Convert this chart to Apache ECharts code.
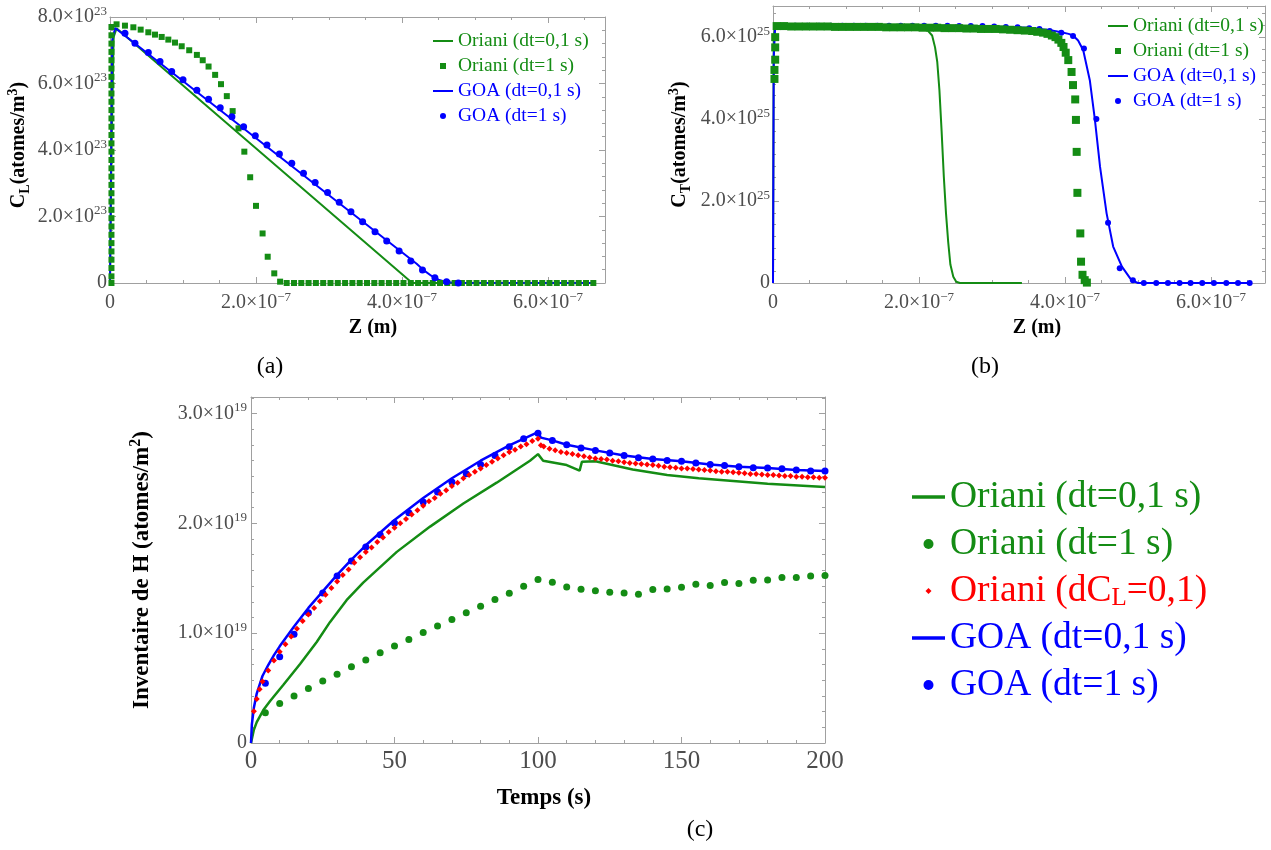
<!DOCTYPE html>
<html>
<head>
<meta charset="utf-8">
<title>Oriani / GOA</title>
<script src="https://cdn.jsdelivr.net/npm/echarts@6/dist/echarts.min.js"></script>
<style>
  html, body { margin: 0; background: #fff; }
  #chart { width: 1271px; height: 850px; }
</style>
</head>
<body>
<div id="chart"></div>
<script>
// ---- (a) C_L profile : z in 1e-7 m, C_L in 1e23 atomes/m3
const orianiLineA = [[0, 0], [0.02, 4.0], [0.05, 7.4], [0.09, 7.66], [4.14, 0], [6.6, 0]];
const orianiColA = [0, 0.2, 0.45, 0.7, 0.95, 1.2, 1.45, 1.7, 1.95, 2.2, 2.45, 2.7, 2.95, 3.2, 3.45, 3.7,
  3.95, 4.2, 4.45, 4.7, 4.95, 5.2, 5.45, 5.7, 5.95, 6.2, 6.45, 6.7, 6.95, 7.2, 7.45, 7.7];
const orianiSqA = [[0.09, 7.78], [0.205, 7.74], [0.32, 7.69], [0.42, 7.62], [0.525, 7.54], [0.616, 7.47],
  [0.708, 7.4], [0.799, 7.32], [0.89, 7.23], [0.982, 7.12], [1.085, 7.0], [1.19, 6.86], [1.27, 6.7],
  [1.35, 6.51], [1.44, 6.26], [1.52, 5.98], [1.6, 5.62], [1.68, 5.17], [1.76, 4.65], [1.84, 3.95],
  [1.92, 3.18], [2.0, 2.32], [2.09, 1.49], [2.16, 0.79], [2.25, 0.29], [2.33, 0.04]];
const orianiTailA = [2.42, 2.52, 2.62, 2.72, 2.82, 2.92, 3.02, 3.12, 3.22, 3.32, 3.42, 3.52, 3.62, 3.72,
  3.82, 3.92, 4.02, 4.12, 4.22, 4.32, 4.42, 4.52, 4.62, 4.72, 4.82, 4.92, 5.02, 5.12, 5.22, 5.32, 5.42,
  5.52, 5.62, 5.72, 5.82, 5.92, 6.02, 6.12, 6.22, 6.32, 6.42, 6.52, 6.62];
const goaLineA = [[0, 0], [0.03, 7.3], [0.07, 7.67], [4.2, 0.58], [4.3, 0.38], [4.4, 0.22], [4.5, 0.1],
  [4.6, 0.03], [4.75, 0], [6.6, 0]];
const goaDotsA = [[0.205, 7.51], [0.342, 7.21], [0.525, 6.93], [0.685, 6.66], [0.845, 6.36], [1.0, 6.11],
  [1.19, 5.8], [1.35, 5.53], [1.51, 5.27], [1.67, 5.0], [1.83, 4.7], [1.99, 4.43], [2.15, 4.15],
  [2.32, 3.88], [2.49, 3.6], [2.65, 3.3], [2.81, 3.02], [2.98, 2.72], [3.14, 2.43], [3.3, 2.14],
  [3.46, 1.84], [3.63, 1.54], [3.79, 1.26], [3.96, 0.96], [4.12, 0.66], [4.28, 0.39], [4.45, 0.16],
  [4.61, 0.04], [4.77, 0]];

// ---- (b) C_T profile : z in 1e-7 m, C_T in 1e25 atomes/m3
const orianiLineB = [[0, 0], [0.005, 3.0], [0.01, 6.0], [0.03, 6.26], [1.0, 6.24], [2.05, 6.22],
  [2.12, 6.16], [2.18, 6.04], [2.22, 5.75], [2.25, 5.4], [2.28, 4.7], [2.31, 3.7], [2.34, 2.6],
  [2.37, 1.7], [2.4, 1.0], [2.43, 0.45], [2.47, 0.15], [2.51, 0.03], [2.56, 0], [3.41, 0]];
const orianiSqB = [[0.02, 4.98], [0.02, 5.2], [0.03, 5.45], [0.03, 5.75], [0.03, 6.0],
  [0.05, 6.27], [0.15, 6.27], [0.25, 6.26], [0.35, 6.26], [0.45, 6.26], [0.55, 6.26], [0.65, 6.26],
  [0.75, 6.26], [0.85, 6.25], [0.95, 6.25], [1.05, 6.25], [1.15, 6.25], [1.25, 6.25], [1.35, 6.25],
  [1.45, 6.25], [1.55, 6.24], [1.65, 6.24], [1.75, 6.24], [1.85, 6.24], [1.95, 6.24], [2.05, 6.23],
  [2.15, 6.23], [2.25, 6.23], [2.35, 6.22], [2.45, 6.22], [2.55, 6.22], [2.65, 6.21], [2.75, 6.21],
  [2.85, 6.2], [2.95, 6.2], [3.05, 6.2], [3.15, 6.19], [3.25, 6.18], [3.35, 6.17], [3.45, 6.16],
  [3.55, 6.15], [3.62, 6.13], [3.7, 6.11], [3.76, 6.08], [3.82, 6.04], [3.87, 6.0], [3.91, 5.94],
  [3.95, 5.86], [3.98, 5.76], [4.01, 5.62], [4.045, 5.44], [4.09, 5.15], [4.11, 4.83], [4.14, 4.48],
  [4.15, 3.98], [4.16, 3.2], [4.17, 2.2], [4.21, 1.21], [4.22, 0.52], [4.24, 0.2], [4.27, 0.07],
  [4.3, 0.01]];
const goaLineB = [[0, 0], [0.01, 5.5], [0.03, 6.28], [3.0, 6.26], [3.5, 6.23], [3.8, 6.17], [3.95, 6.12],
  [4.05, 6.08], [4.11, 6.04], [4.18, 5.92], [4.25, 5.68], [4.34, 4.95], [4.41, 3.98], [4.48, 2.84],
  [4.57, 1.7], [4.66, 0.89], [4.78, 0.4], [4.91, 0.07], [5.0, 0], [6.55, 0]];
const goaDotsB = [[0.15, 6.28], [0.31, 6.28], [0.47, 6.28], [0.63, 6.28], [0.79, 6.28], [0.95, 6.28],
  [1.11, 6.28], [1.27, 6.28], [1.43, 6.28], [1.59, 6.28], [1.75, 6.28], [1.91, 6.28], [2.07, 6.28],
  [2.23, 6.28], [2.39, 6.28], [2.55, 6.27], [2.71, 6.27], [2.87, 6.27], [3.03, 6.26], [3.19, 6.25],
  [3.35, 6.24], [3.51, 6.22], [3.65, 6.2], [3.79, 6.15], [3.95, 6.11], [4.11, 6.03], [4.26, 5.72],
  [4.43, 4.0], [4.59, 1.47], [4.75, 0.36], [4.93, 0.07], [5.08, 0], [5.25, 0], [5.41, 0], [5.57, 0],
  [5.72, 0], [5.88, 0], [6.04, 0], [6.21, 0], [6.37, 0], [6.53, 0]];

// ---- (c) H inventory : time in s, inventory in 1e19 atomes/m2
const orianiLineC = [[0, 0], [1, 0.12], [2, 0.19], [4.3, 0.3], [6.6, 0.38], [11.3, 0.53], [17.1, 0.72],
  [22.9, 0.92], [27.5, 1.1], [33.3, 1.3], [39.1, 1.46], [50.8, 1.74], [62.4, 1.97], [74, 2.18],
  [85.6, 2.37], [97.2, 2.57], [100, 2.63], [101.8, 2.57], [110, 2.53], [114.5, 2.48], [115.3, 2.56],
  [120, 2.565], [133, 2.49], [145, 2.44], [156, 2.41], [168, 2.385], [180, 2.36], [200, 2.33]];
const dotTimes = [5, 10, 15, 20, 25, 30, 35, 40, 45, 50, 55, 60, 65, 70, 75, 80, 85, 90, 95, 100,
  105, 110, 115, 120, 125, 130, 135, 140, 145, 150, 155, 160, 165, 170, 175, 180, 185, 190, 195, 200];
const orianiDotsC = [0.276, 0.36, 0.427, 0.497, 0.564, 0.627, 0.694, 0.755, 0.821, 0.882, 0.942, 1.006,
  1.066, 1.124, 1.185, 1.245, 1.306, 1.363, 1.427, 1.488, 1.464, 1.421, 1.4, 1.385, 1.373, 1.366, 1.355,
  1.397, 1.403, 1.418, 1.445, 1.433, 1.461, 1.452, 1.482, 1.485, 1.506, 1.506, 1.521, 1.525];
const goaDotsC = [0.543, 0.785, 0.99, 1.185, 1.366, 1.52, 1.657, 1.785, 1.897, 2.003, 2.097, 2.194,
  2.285, 2.376, 2.452, 2.536, 2.618, 2.697, 2.77, 2.82, 2.755, 2.715, 2.685, 2.664, 2.64, 2.618, 2.597,
  2.585, 2.573, 2.564, 2.548, 2.536, 2.527, 2.515, 2.506, 2.503, 2.497, 2.485, 2.476, 2.476];
const goaLineC = [[0, 0], [0.3, 0.17], [1, 0.32], [2, 0.45], [4, 0.61], [6, 0.71], [8, 0.8], [10, 0.88],
  [15, 1.06], [20, 1.23], [25, 1.38], [30, 1.53], [35, 1.67], [40, 1.8], [50, 2.03], [60, 2.23],
  [70, 2.41], [80, 2.57], [90, 2.71], [100, 2.83], [101, 2.78], [105, 2.755], [110, 2.715], [120, 2.664],
  [130, 2.618], [140, 2.585], [150, 2.564], [160, 2.536], [170, 2.515], [180, 2.503], [190, 2.485],
  [200, 2.476]];
const orianiDclC = [[1, 0.29], [2, 0.4], [3, 0.49], [4, 0.56], [6, 0.66], [8, 0.75], [10, 0.83],
  [12, 0.9], [14, 0.97], [16, 1.04], [18, 1.11], [20, 1.17], [22, 1.23], [24, 1.29], [26, 1.35],
  [28, 1.41], [30, 1.47], [32, 1.53], [34, 1.58], [36, 1.64], [38, 1.69], [40, 1.74], [42, 1.78],
  [44, 1.83], [46, 1.87], [48, 1.92], [50, 1.96], [52, 2.0], [54, 2.04], [56, 2.08], [58, 2.12],
  [60, 2.16], [62, 2.2], [64, 2.23], [66, 2.27], [68, 2.3], [70, 2.34], [72, 2.37], [74, 2.41],
  [76, 2.44], [78, 2.47], [80, 2.5], [82, 2.53], [84, 2.56], [86, 2.59], [88, 2.62], [90, 2.65],
  [92, 2.67], [94, 2.7], [96, 2.72], [98, 2.75], [100, 2.77], [101, 2.71], [102, 2.7], [104, 2.68],
  [106, 2.665], [108, 2.65], [110, 2.64], [112, 2.63], [114, 2.62], [116, 2.61], [118, 2.6], [120, 2.59],
  [122, 2.585], [124, 2.58], [126, 2.57], [128, 2.565], [130, 2.555], [132, 2.55], [134, 2.545],
  [136, 2.54], [138, 2.535], [140, 2.53], [142, 2.525], [144, 2.515], [146, 2.51], [148, 2.505],
  [150, 2.5], [152, 2.5], [154, 2.495], [156, 2.49], [158, 2.485], [160, 2.48], [162, 2.475],
  [164, 2.47], [166, 2.47], [168, 2.465], [170, 2.46], [172, 2.455], [174, 2.45], [176, 2.45],
  [178, 2.445], [180, 2.44], [182, 2.44], [184, 2.435], [186, 2.43], [188, 2.43], [190, 2.425],
  [192, 2.425], [194, 2.42], [196, 2.42], [198, 2.415], [200, 2.415]];

const N_OR01 = 'Oriani (dt=0,1 s)';
const N_OR1 = 'Oriani (dt=1 s)';
const N_DCL = 'Oriani (dCL=0,1)';
const N_GOA01 = 'GOA (dt=0,1 s)';
const N_GOA1 = 'GOA (dt=1 s)';

const FONT = 'Liberation Serif';
const GREEN = '#148c14';
const BLUE = '#0000ff';
const RED = '#ff0000';
const FRAME = '#a0a0a0';
const LABEL = '#4d4d4d';

function onStep(v, step) {
  return Math.abs(v / step - Math.round(v / step)) < 1e-6;
}
// tick labels like 2.0x10^-7
function sciLabel(step, exp) {
  return function (v) {
    if (Math.abs(v) < 1e-9) return '{n|0}';
    if (!onStep(v, step)) return '';
    return '{n|' + v.toFixed(1) + '×10}{e|' + exp + '}';
  };
}
function labelRich(size, supSize) {
  return {
    n: { fontFamily: FONT, fontSize: size, color: LABEL, lineHeight: size + 4 },
    e: { fontFamily: FONT, fontSize: supSize, color: LABEL, lineHeight: supSize, verticalAlign: 'top' }
  };
}
function nameRich(size) {
  return {
    b: { fontFamily: FONT, fontSize: size, fontWeight: 'bold', color: '#000', lineHeight: size + 6 },
    s: { fontFamily: FONT, fontSize: Math.round(size * 0.7), fontWeight: 'bold', color: '#000',
      lineHeight: Math.round(size * 0.6), verticalAlign: 'bottom' },
    p: { fontFamily: FONT, fontSize: Math.round(size * 0.7), fontWeight: 'bold', color: '#000',
      lineHeight: Math.round(size * 0.7), verticalAlign: 'top' }
  };
}

function frameAxis(gridIndex, min, max, interval, minorSplit) {
  return {
    type: 'value', gridIndex: gridIndex, min: min, max: max, interval: interval,
    axisLine: { show: true, onZero: false, lineStyle: { color: FRAME, width: 1 } },
    axisTick: { show: true, inside: true, length: 6, lineStyle: { color: FRAME } },
    minorTick: { show: true, splitNumber: minorSplit, length: 3, lineStyle: { color: FRAME } },
    splitLine: { show: false },
    minorSplitLine: { show: false }
  };
}
function mirror(axis, position) {
  return Object.assign({}, axis, { position: position, axisLabel: { show: false } });
}

// axes : index 0/1 -> (a), 2/3 -> (b), 4/5 -> (c)
const xa = frameAxis(0, 0, 6.78, 2, 4);
const xb = frameAxis(1, 0, 6.74, 2, 4);
const xc = frameAxis(2, 0, 200, 50, 5);
const ya = frameAxis(0, 0, 8, 2, 5);
const yb = frameAxis(1, 0, 6.76, 2, 7);
const yc = frameAxis(2, 0, 3.15, 1, 7);

const xAxes = [
  Object.assign({}, xa, {
    position: 'bottom',
    axisLabel: { margin: 8, formatter: sciLabel(2, '−7'), rich: labelRich(20, 13), showMaxLabel: false },
    name: 'Z (m)', nameLocation: 'middle', nameGap: 35,
    nameTextStyle: { fontFamily: FONT, fontSize: 20, fontWeight: 'bold', color: '#000', padding: [0, 0, 0, 31] }
  }),
  mirror(xa, 'top'),
  Object.assign({}, xb, {
    position: 'bottom',
    axisLabel: { margin: 8, formatter: sciLabel(2, '−7'), rich: labelRich(20, 13), showMaxLabel: false },
    name: 'Z (m)', nameLocation: 'middle', nameGap: 35,
    nameTextStyle: { fontFamily: FONT, fontSize: 20, fontWeight: 'bold', color: '#000', padding: [0, 0, 0, 36] }
  }),
  mirror(xb, 'top'),
  Object.assign({}, xc, {
    position: 'bottom',
    axisLabel: { margin: 6, fontFamily: FONT, fontSize: 25, color: LABEL },
    name: 'Temps (s)', nameLocation: 'middle', nameGap: 44,
    nameTextStyle: { fontFamily: FONT, fontSize: 23, fontWeight: 'bold', color: '#000', padding: [0, 0, 0, 12] }
  }),
  mirror(xc, 'top')
];
const yAxes = [
  Object.assign({}, ya, {
    position: 'left',
    axisLabel: { margin: 3, formatter: sciLabel(2, '23'), rich: labelRich(20, 13) },
    name: '{b|C}{s|L}{b|(atomes/m}{p|3}{b|)}', nameLocation: 'middle', nameGap: 78, nameRotate: 90,
    nameTextStyle: { rich: nameRich(20), padding: [0, 0, 0, 10] }
  }),
  mirror(ya, 'right'),
  Object.assign({}, yb, {
    position: 'left',
    axisLabel: { margin: 3, formatter: sciLabel(2, '25'), rich: labelRich(20, 13), showMaxLabel: false },
    name: '{b|C}{s|T}{b|(atomes/m}{p|3}{b|)}', nameLocation: 'middle', nameGap: 80, nameRotate: 90,
    nameTextStyle: { rich: nameRich(20) }
  }),
  mirror(yb, 'right'),
  Object.assign({}, yc, {
    position: 'left',
    axisLabel: { margin: 4, formatter: sciLabel(1, '19'), rich: labelRich(20, 13), showMaxLabel: false },
    name: '{b|Inventaire de H (atomes/m}{p|2}{b|)}', nameLocation: 'middle', nameGap: 94, nameRotate: 90,
    nameTextStyle: { rich: nameRich(23) }
  }),
  mirror(yc, 'right')
];

const LINE_ICON = 'path://M0,0L20,0L20,2L0,2Z';
const LINE_ICON_BIG = 'path://M0,0L33,0L33,3.5L0,3.5Z';
const SQUARE_ICON = 'path://M0,0L1,0L1,1L0,1Z';
const DIAMOND_ICON = 'path://M0,0M10,10M5,2L8,5L5,8L2,5Z';

function smallLegend(left, top) {
  return {
    orient: 'vertical', left: left, top: top, padding: 0, itemGap: 5,
    itemWidth: 20, itemHeight: 6, selectedMode: false,
    itemStyle: { borderWidth: 0 },
    textStyle: { fontFamily: FONT, fontSize: 19.5, lineHeight: 19 },
    data: [
      { name: N_OR01, icon: LINE_ICON, textStyle: { color: GREEN } },
      { name: N_OR1, icon: SQUARE_ICON, textStyle: { color: GREEN } },
      { name: N_GOA01, icon: LINE_ICON, textStyle: { color: BLUE } },
      { name: N_GOA1, icon: 'circle', textStyle: { color: BLUE } }
    ]
  };
}

function lineSeries(name, data, color, width, gi) {
  return {
    name: name, type: 'line', data: data, xAxisIndex: gi * 2, yAxisIndex: gi * 2,
    showSymbol: false, symbol: 'none', smooth: false,
    lineStyle: { color: color, width: width }, itemStyle: { color: color }, z: 2
  };
}
function scatterSeries(name, data, color, symbol, size, gi) {
  return {
    name: name, type: 'scatter', data: data, xAxisIndex: gi * 2, yAxisIndex: gi * 2,
    symbol: symbol, symbolSize: size, itemStyle: { color: color, opacity: 1 }, z: 3
  };
}

const sqAData = orianiColA.map(function (y) { return [0.02, y]; })
  .concat(orianiSqA, orianiTailA.map(function (x) { return [x, 0]; }));

const option = {
  animation: false,
  backgroundColor: '#fff',
  grid: [
    { left: 110, top: 17, width: 495, height: 266 },
    { left: 773, top: 6, width: 492, height: 277 },
    { left: 251, top: 397, width: 574, height: 346 }
  ],
  xAxis: xAxes,
  yAxis: yAxes,
  legend: [
    smallLegend(433, 31),
    smallLegend(1108, 16),
    {
      orient: 'vertical', left: 912, top: 477, padding: 0, itemGap: 7,
      itemWidth: 33, itemHeight: 10, selectedMode: false,
      itemStyle: { borderWidth: 0 },
      textStyle: {
        fontFamily: FONT, fontSize: 37.5, lineHeight: 40,
        rich: { sub: { fontFamily: FONT, fontSize: 25, lineHeight: 20, verticalAlign: 'bottom', color: RED } }
      },
      formatter: function (name) {
        return name === N_DCL ? 'Oriani (dC{sub|L}=0,1)' : name;
      },
      data: [
        { name: N_OR01, icon: LINE_ICON_BIG, textStyle: { color: GREEN } },
        { name: N_OR1, icon: 'circle', textStyle: { color: GREEN } },
        { name: N_DCL, icon: DIAMOND_ICON, textStyle: { color: RED } },
        { name: N_GOA01, icon: LINE_ICON_BIG, textStyle: { color: BLUE } },
        { name: N_GOA1, icon: 'circle', textStyle: { color: BLUE } }
      ]
    }
  ],
  graphic: [
    { type: 'text', x: 270, y: 367, style: { text: '(a)', font: '24px "Liberation Serif"', fill: '#000', align: 'center', verticalAlign: 'middle' } },
    { type: 'text', x: 985, y: 367, style: { text: '(b)', font: '24px "Liberation Serif"', fill: '#000', align: 'center', verticalAlign: 'middle' } },
    { type: 'text', x: 700, y: 830, style: { text: '(c)', font: '24px "Liberation Serif"', fill: '#000', align: 'center', verticalAlign: 'middle' } }
  ],
  series: [
    // (a)
    lineSeries(N_OR01, orianiLineA, GREEN, 2, 0),
    scatterSeries(N_OR1, sqAData, GREEN, 'rect', 6, 0),
    lineSeries(N_GOA01, goaLineA, BLUE, 2, 0),
    scatterSeries(N_GOA1, goaDotsA, BLUE, 'circle', 7, 0),
    // (b) : the dense Oriani squares cover the GOA plateau
    lineSeries(N_OR01, orianiLineB, GREEN, 2, 1),
    lineSeries(N_GOA01, goaLineB, BLUE, 2, 1),
    Object.assign(scatterSeries(N_GOA1, goaDotsB, BLUE, 'circle', 6, 1), { z: 3 }),
    Object.assign(scatterSeries(N_OR1, orianiSqB, GREEN, 'rect', 8, 1), { z: 4 }),
    // (c)
    lineSeries(N_OR01, orianiLineC, GREEN, 2.5, 2),
    scatterSeries(N_OR1, dotTimes.map(function (t, i) { return [t, orianiDotsC[i]]; }), GREEN, 'circle', 7, 2),
    lineSeries(N_GOA01, goaLineC, BLUE, 2.5, 2),
    scatterSeries(N_GOA1, dotTimes.map(function (t, i) { return [t, goaDotsC[i]]; }), BLUE, 'circle', 7, 2),
    scatterSeries(N_DCL, orianiDclC, RED, 'diamond', 6, 2)
  ]
};

const chart = echarts.init(document.getElementById('chart'), null, { renderer: 'canvas' });
chart.setOption(option);
</script>
</body>
</html>
